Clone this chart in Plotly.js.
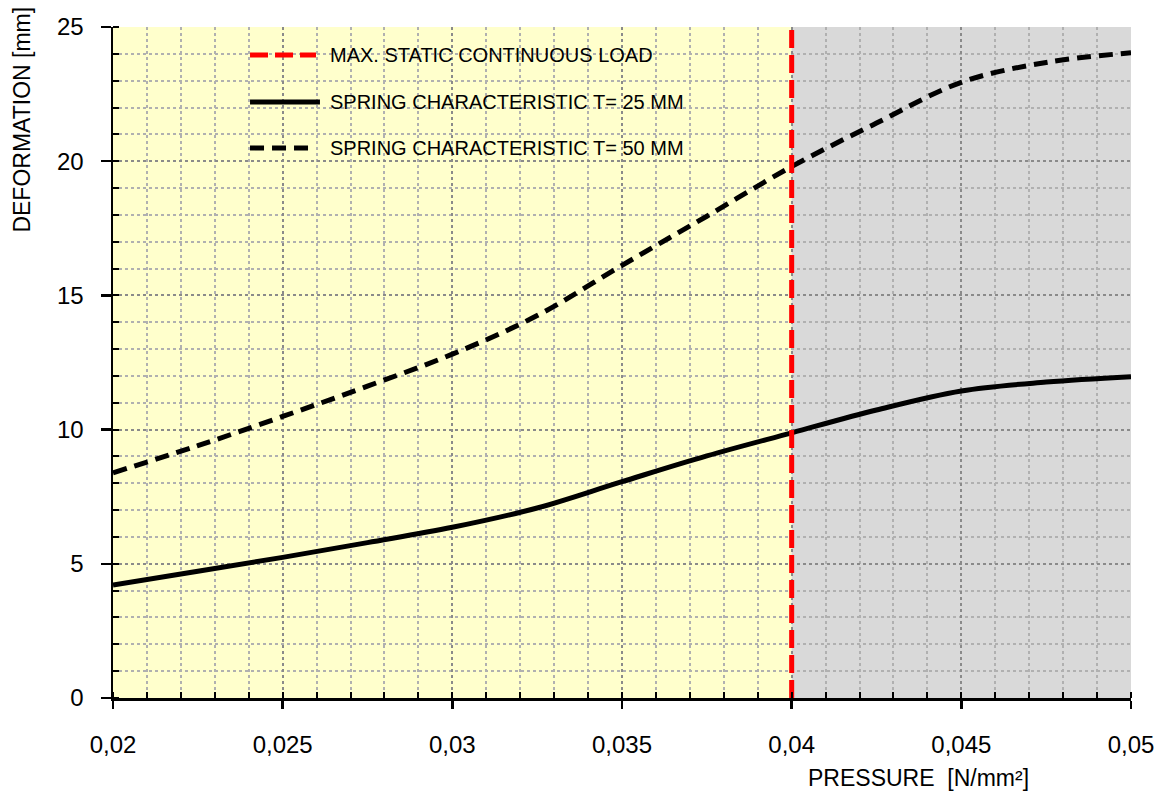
<!DOCTYPE html>
<html>
<head>
<meta charset="utf-8">
<script src="https://cdn.plot.ly/plotly-3.0.1.min.js"></script>
<style>html,body{margin:0;padding:0;background:#fff;}#chart{width:1170px;height:792px;}</style>
</head>
<body>
<div id="chart"></div>
<script>
// Data
const pressure = [0.02, 0.0225, 0.025, 0.0275, 0.03, 0.0325, 0.035, 0.0375, 0.04, 0.0425, 0.045, 0.0475, 0.05];
const deform25 = [4.21, 4.72, 5.24, 5.79, 6.36, 7.08, 8.06, 9.02, 9.88, 10.73, 11.44, 11.77, 11.97];
const deform50 = [8.39, 9.40, 10.49, 11.62, 12.81, 14.25, 16.12, 17.95, 19.80, 21.42, 22.94, 23.68, 24.04];
const maxLoadX = [0.04, 0.04];
const maxLoadY = [0, 25];
const legendLabels = ["MAX. STATIC CONTINUOUS LOAD", "SPRING CHARACTERISTIC T= 25 MM", "SPRING CHARACTERISTIC T= 50 MM"];
const xTitle = "PRESSURE\u00a0\u00a0[N/mm²]";
const yTitle = "DEFORMATION [mm]";

const FONT = "Liberation Sans, Arial, Helvetica, sans-serif";

const traces = [
  {x: pressure, y: deform25, mode: 'lines', line: {color: '#000', width: 5, shape: 'spline', smoothing: 1}, name: legendLabels[1]},
  {x: pressure, y: deform50, mode: 'lines', line: {color: '#000', width: 5, shape: 'spline', smoothing: 1, dash: '14px,8px'}, name: legendLabels[2]},
  {x: maxLoadX, y: maxLoadY, mode: 'lines', line: {color: '#ff0000', width: 5, dash: '18px,7px'}, name: legendLabels[0]}
];

// legend positions in paper coords
const legY = [0.9583, 0.8882, 0.8197];
const legStyles = [
  {color: '#ff0000', dash: '18px,7px', x1: 0.1994},
  {color: '#000', dash: 'solid', x1: 0.2033},
  {color: '#000', dash: '14px,8px', x1: 0.1994}
];

const shapes = [
  {type: 'rect', xref: 'x', yref: 'y', x0: 0.02, x1: 0.04, y0: 0, y1: 25, fillcolor: '#ffffcc', line: {width: 0}, layer: 'below'},
  {type: 'rect', xref: 'x', yref: 'y', x0: 0.04, x1: 0.05, y0: 0, y1: 25, fillcolor: '#d9d9d9', line: {width: 0}, layer: 'below'}
];
const annotations = [];
legY.forEach((yy, i) => {
  shapes.push({type: 'line', xref: 'paper', yref: 'paper', x0: 0.1346, x1: legStyles[i].x1, y0: yy, y1: yy,
    line: {color: legStyles[i].color, width: 5, dash: legStyles[i].dash}, layer: 'above'});
  annotations.push({xref: 'paper', yref: 'paper', x: 0.2112, y: yy, xanchor: 'left', yanchor: 'middle',
    text: legendLabels[i], showarrow: false, font: {family: FONT, size: 20, color: '#000'}});
});
annotations.push({xref: 'paper', yref: 'paper', x: -0.0894, y: 0.862, xanchor: 'center', yanchor: 'middle',
  text: yTitle, textangle: -90, showarrow: false, font: {family: FONT, size: 23, color: '#000'}});
annotations.push({xref: 'paper', yref: 'paper', x: 0.791, y: -0.119, xanchor: 'center', yanchor: 'middle',
  text: xTitle, showarrow: false, font: {family: FONT, size: 23, color: '#000'}});

const layout = {
  width: 1170, height: 792,
  margin: {l: 113, r: 39, t: 27, b: 94},
  paper_bgcolor: '#fff', plot_bgcolor: '#fff',
  separators: ', ',
  showlegend: false,
  font: {family: FONT, color: '#000'},
  xaxis: {
    range: [0.02, 0.05], dtick: 0.005, tick0: 0.02, tickformat: '.3~f',
    showline: true, linecolor: '#000', linewidth: 2.5, zeroline: false,
    ticks: 'outside', ticklen: 8, tickwidth: 2.5, tickcolor: '#000',
    ticklabelstandoff: 16,
    tickfont: {family: FONT, size: 24, color: '#000'},
    showgrid: true, gridcolor: '#8a8a8a', griddash: 'dot', gridwidth: 2,
    minor: {dtick: 0.001, showgrid: true, gridcolor: '#b0b0b0', griddash: 'dot', gridwidth: 2,
      ticks: 'inside', ticklen: 6, tickwidth: 2, tickcolor: '#000'}
  },
  yaxis: {
    range: [0, 25], dtick: 5, tick0: 0,
    showline: true, linecolor: '#000', linewidth: 2.5, zeroline: false,
    ticks: 'outside', ticklen: 10, tickwidth: 2.5, tickcolor: '#000',
    ticklabelstandoff: 12,
    tickfont: {family: FONT, size: 24, color: '#000'},
    showgrid: true, gridcolor: '#8a8a8a', griddash: 'dot', gridwidth: 2,
    minor: {dtick: 1, showgrid: true, gridcolor: '#b0b0b0', griddash: 'dot', gridwidth: 2,
      ticks: 'inside', ticklen: 6, tickwidth: 2, tickcolor: '#000'}
  },
  shapes: shapes,
  annotations: annotations
};

Plotly.newPlot('chart', traces, layout, {displayModeBar: false, staticPlot: true});
</script>
</body>
</html>
